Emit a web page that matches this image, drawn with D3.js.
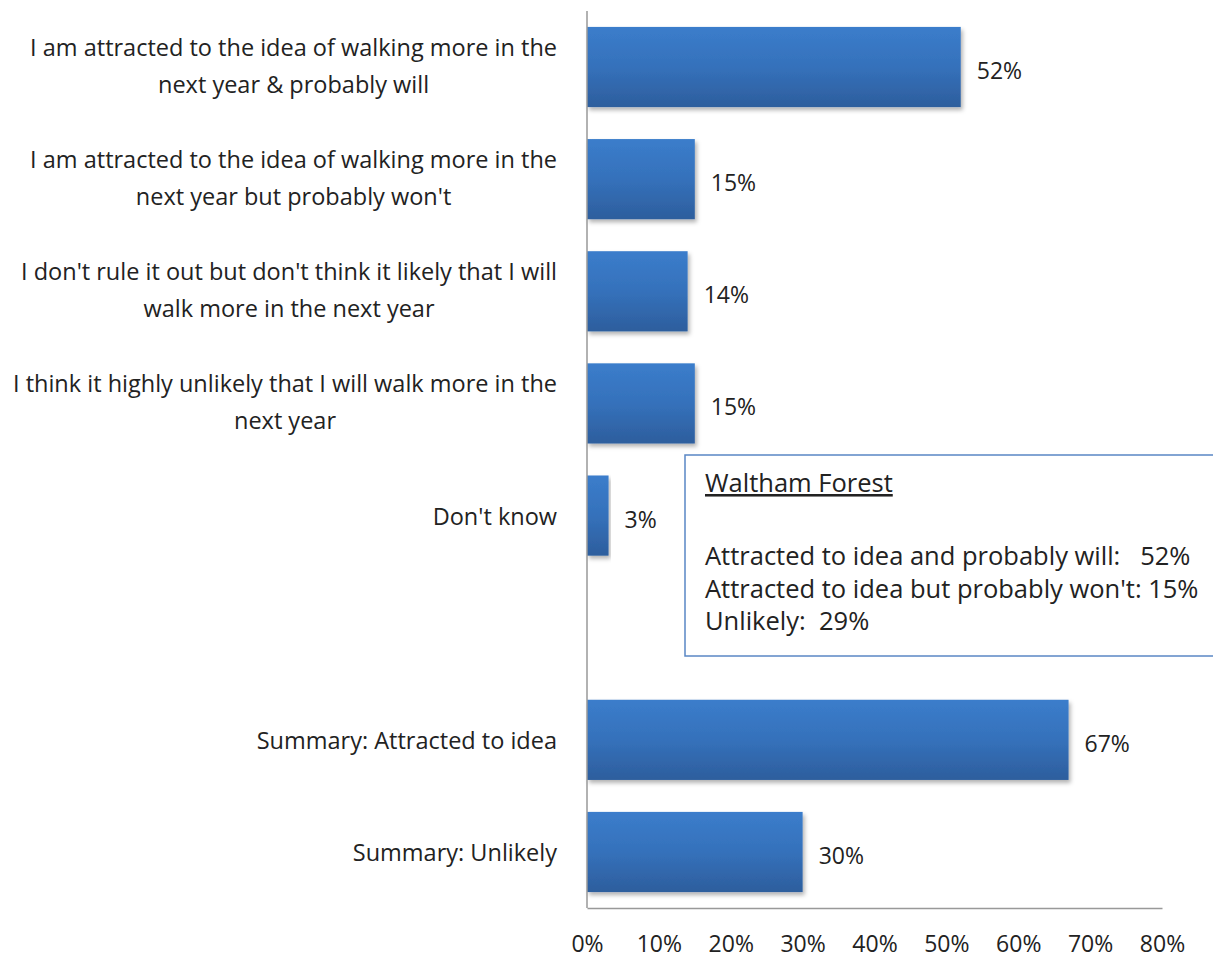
<!DOCTYPE html>
<html>
<head>
<meta charset="utf-8">
<script src="https://cdn.jsdelivr.net/npm/d3@7"></script>
<style>
  body { margin: 0; background: #fff; }
  svg text { font-family: "Open Sans", "Liberation Sans", sans-serif; fill: #222; }
</style>
</head>
<body>
<div id="chart"></div>
<script>
// categories (line-broken as in the original), "" is the empty gap slot
const categories = [
  ["I am attracted to the idea of walking more in the", "next year & probably will"],
  ["I am attracted to the idea of walking more in the", "next year but probably won't"],
  ["I don't rule it out but don't think it likely that I will", "walk more in the next year"],
  ["I think it highly unlikely that I will walk more in the", "next year"],
  ["Don't know"],
  [""],
  ["Summary: Attracted to idea"],
  ["Summary: Unlikely"]
];
const values = [0.52, 0.15, 0.14, 0.15, 0.03, null, 0.67, 0.30];
const xTicks = [0, 0.1, 0.2, 0.3, 0.4, 0.5, 0.6, 0.7, 0.8];
const boxTitle = "Waltham Forest";
const boxLines = [
  "Attracted to idea and probably will:   52%",
  "Attracted to idea but probably won't: 15%",
  "Unlikely:  29%"
];

const width = 1213, height = 958;
const margin = { left: 587, top: 11 };

const svg = d3.select("#chart").append("svg")
  .attr("width", width).attr("height", height);

const x = d3.scaleLinear().domain([0, 0.8]).range([margin.left, 1162]);
const y = d3.scaleBand().domain(d3.range(categories.length))
  .range([margin.top, 908]).paddingInner(0.285).paddingOuter(0.142);

// gradient for bars
const defs = svg.append("defs");
const grad = defs.append("linearGradient").attr("id", "barGrad")
  .attr("x1", 0).attr("y1", 0).attr("x2", 0).attr("y2", 1);
grad.append("stop").attr("offset", "0%").attr("stop-color", "#3b7dcb");
grad.append("stop").attr("offset", "50%").attr("stop-color", "#3571bb");
grad.append("stop").attr("offset", "100%").attr("stop-color", "#2d5e9d");
const shadow = defs.append("filter").attr("id", "shadow")
  .attr("x", "-5%").attr("y", "-5%").attr("width", "115%").attr("height", "120%");
shadow.append("feDropShadow").attr("dx", 2).attr("dy", 3).attr("stdDeviation", 2)
  .attr("flood-color", "#000").attr("flood-opacity", 0.3);

const data = values.map((v, i) => ({ i, v })).filter(d => d.v != null);

svg.append("g").selectAll("rect").data(data).enter().append("rect")
  .attr("x", x(0))
  .attr("y", d => y(d.i))
  .attr("width", d => x(d.v) - x(0))
  .attr("height", y.bandwidth())
  .attr("fill", "url(#barGrad)")
  .attr("filter", "url(#shadow)");

// value labels
svg.append("g").selectAll("text").data(data).enter().append("text")
  .attr("x", d => x(d.v) + 16)
  .attr("y", d => y(d.i) + y.bandwidth() / 2 + 12)
  .attr("font-size", 23)
  .text(d => Math.round(d.v * 100) + "%");

// category labels: block right-aligned at the axis, lines centred in the block
const catG = svg.append("g");
categories.forEach((lines, i) => {
  const cy = y(i) + y.bandwidth() / 2;
  const lh = 37;
  const off = lines.length > 1 ? 7 : 9;
  const nodes = lines.map((ln, j) => catG.append("text")
      .attr("y", cy + (j - (lines.length - 1) / 2) * lh + off)
      .attr("text-anchor", "middle")
      .attr("font-size", 23.5)
      .text(ln));
  const maxW = d3.max(nodes, n => n.node().getComputedTextLength());
  nodes.forEach(n => n.attr("x", 557 - maxW / 2));
});

// axes
const xAxis = d3.axisBottom(x).tickValues(xTicks).tickSize(0).tickPadding(28)
  .tickFormat(d3.format(".0%"));
const gx = svg.append("g").attr("transform", "translate(0,908)").call(xAxis);
gx.select(".domain").attr("stroke", "#999").attr("stroke-width", 1.5);
gx.selectAll("text").attr("font-size", 23).attr("fill", "#222")
  .style("font-family", "'Open Sans', sans-serif");

svg.append("line")
  .attr("x1", x(0)).attr("x2", x(0))
  .attr("y1", margin.top).attr("y2", 908)
  .attr("stroke", "#999").attr("stroke-width", 1.5);

// annotation box
const box = svg.append("g");
box.append("rect")
  .attr("x", 685).attr("y", 455).attr("width", 540).attr("height", 201)
  .attr("fill", "#fff").attr("stroke", "#5a87c5").attr("stroke-width", 1.5);
box.append("text").attr("x", 705).attr("y", 492).attr("font-size", 25.5)
  .attr("text-decoration", "underline").text(boxTitle);
boxLines.forEach((t, i) => {
  box.append("text").attr("x", 705).attr("y", 565 + i * 32.5)
    .attr("font-size", 25.5).style("white-space", "pre").text(t);
});
</script>
</body>
</html>
